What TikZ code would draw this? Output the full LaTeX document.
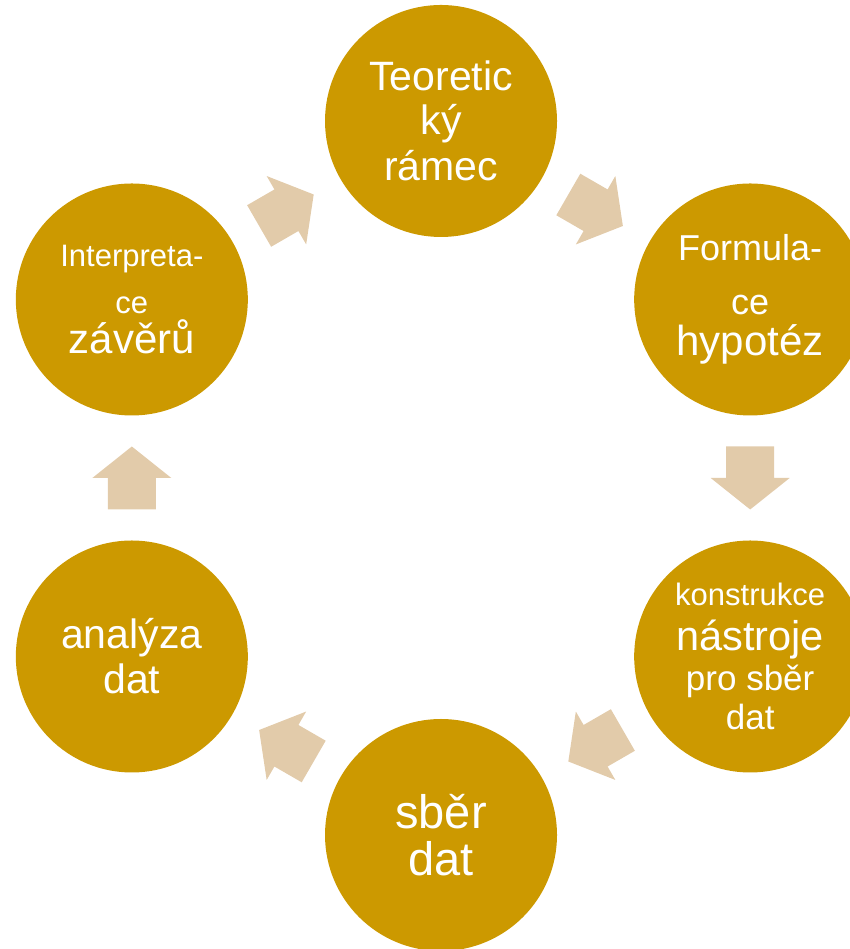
\documentclass[tikz,border=0pt]{standalone}
\usepackage{fontspec}
\setmainfont{Liberation Sans}
\usetikzlibrary{calc}
\definecolor{colGold}{HTML}{CC9900}
\definecolor{colSand}{HTML}{E2CBAA}
\newcommand{\phasefont}{\fontsize{41}{0}\selectfont\lineskiplimit=-1000pt\relax}
\newcommand{\sz}[2]{{\fontsize{#1}{#1}\selectfont #2}}
\tikzset{
  phase/.style={
    circle, fill=colGold, minimum size=232pt,
    inner sep=0pt, align=center, text=white,
    font=\phasefont
  },
  blockarr/.pic={
    \fill[colSand] (-31.5,-24) -- (0,-24) -- (0,-39.5) -- (31.5,0)
      -- (0,39.5) -- (0,24) -- (-31.5,24) -- cycle;
  }
}
\newcommand{\cyclearrow}[2]{%
  \path let \p1=($(#2)-(#1)$), \n1={atan2(\y1,\x1)} in
    pic[rotate=\n1] at ($(#1)!0.5!(#2)$) {blockarr};%
}

\begin{document}
\begin{tikzpicture}[x=1pt, y=1pt]
    \useasboundingbox (0,0) rectangle (850,949);
    \clip (0,0) rectangle (850,949);
    \coordinate (mid) at (441,471);

    \node[phase] (teor) at ($(mid)+(90:357)$)
      {\sz{41}{Teoretic}\\[44pt]\sz{41}{ký}\\[46pt]\sz{41}{rámec}};
    \node[phase] (hypo) at ($(mid)+(30:357)$)
      {\sz{36}{Formula-}\\[54pt]\sz{36}{ce}\\[41pt]\sz{42}{hypotéz}};
    \node[phase] (nastr) at ($(mid)+(-30:357)$)
      {\sz{31}{konstrukce}\\[45pt]\sz{41.5}{nástroje}\\[40pt]\sz{35}{pro sběr}\\[39pt]\sz{35}{dat}};
    \node[phase] (sber) at ($(mid)+(-90:357)$)
      {\sz{47}{sběr}\\[47pt]\sz{47}{dat}};
    \node[phase] (anal) at ($(mid)+(-150:357)$)
      {\sz{41}{analýza}\\[45pt]\sz{41}{dat}};
    \node[phase] (interp) at ($(mid)+(150:357)$)
      {\sz{31}{Interpreta-}\\[47pt]\sz{31}{ce}\\[40pt]\sz{42}{závěrů}};

    \cyclearrow{teor}{hypo}
    \cyclearrow{hypo}{nastr}
    \cyclearrow{nastr}{sber}
    \cyclearrow{sber}{anal}
    \cyclearrow{anal}{interp}
    \cyclearrow{interp}{teor}
\end{tikzpicture}
\end{document}
